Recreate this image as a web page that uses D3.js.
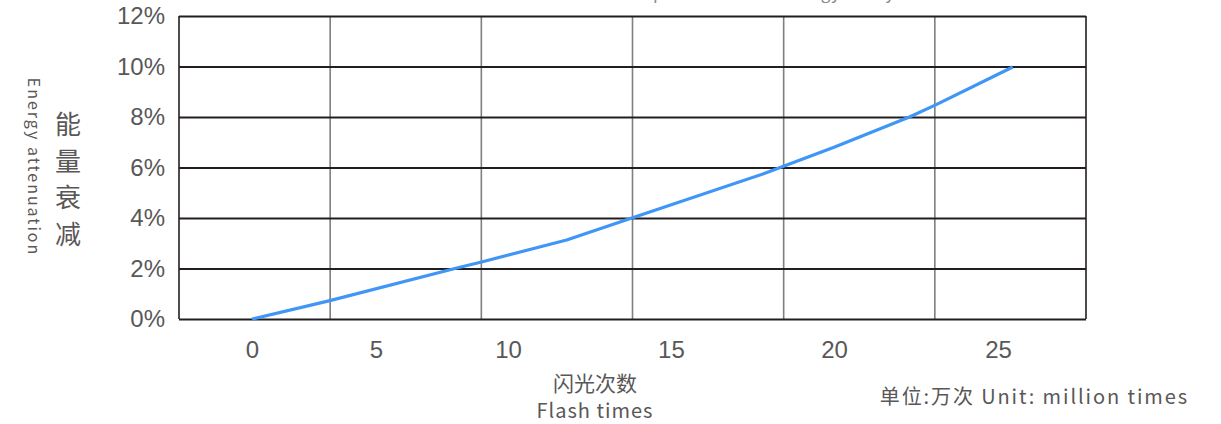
<!DOCTYPE html>
<html>
<head>
<meta charset="utf-8">
<script src="https://d3js.org/d3.v7.min.js"></script>
<style>
    body { margin: 0; background: #fff; }
    .tick text { fill: #595757; font-family: "Liberation Sans", Arial, sans-serif; }
    .cap { fill: #595757; font-family: "Noto Sans CJK SC", sans-serif; }
</style>
</head>
<body>
<div id="chart"></div>
<script>
    // flash count (10k times) vs energy attenuation (%)
    var flashes = [0, 3.1, 8.1, 9.0, 11.8, 13.8, 17.9, 20.0, 22.3, 23.1, 25.45];
    var attenuation = [0, 0.72, 2.03, 2.26, 3.13, 4.0, 5.78, 6.8, 8.0, 8.48, 9.98];
    var xTicks = [0, 5, 10, 15, 20, 25];
    var yTicks = [0, 2, 4, 6, 8, 10, 12];
    var nCols = 6;

    var width = 1221, height = 424;
    var margin = { top: 16, left: 179, right: 135, bottom: 105 };
    var plotW = width - margin.left - margin.right;
    var plotH = height - margin.top - margin.bottom;

    // label spots along the axis are not evenly spread in the original
    var tickFrac = [0.0805, 0.2172, 0.3627, 0.5424, 0.7222, 0.9030];

    var x = d3.scaleLinear()
        .domain(xTicks)
        .range(tickFrac.map(function (f) { return f * plotW; }));
    var y = d3.scaleLinear().domain([0, 12]).range([plotH, 0]);
    var col = d3.scaleLinear().domain([0, nCols]).range([0, plotW]);

    var svg = d3.select("#chart").append("svg")
        .attr("width", width)
        .attr("height", height);

    svg.append("text")
        .attr("class", "cap")
        .attr("x", margin.left + plotW / 2)
        .attr("y", -1)
        .attr("text-anchor", "middle")
        .style("font-size", "17px")
        .style("letter-spacing", "0.6px")
        .style("fill", "#8a8a8a")
        .text("Characteristic curve of xenon lamp accumulated energy decay");

    var g = svg.append("g")
        .attr("transform", "translate(" + margin.left + "," + margin.top + ")");

    // vertical grid
    g.append("g").selectAll("line")
        .data(d3.range(nCols + 1))
        .enter().append("line")
        .attr("x1", function (d) { return col(d); })
        .attr("x2", function (d) { return col(d); })
        .attr("y1", 0)
        .attr("y2", plotH)
        .style("stroke", function (d) { return (d == 0 || d == nCols) ? "#231f20" : "#7f7f7f"; })
        .style("stroke-width", 1.6);

    // y axis + horizontal grid
    var yAxis = g.append("g")
        .call(d3.axisLeft(y)
            .tickValues(yTicks)
            .tickSizeInner(-plotW)
            .tickSizeOuter(0)
            .tickPadding(14)
            .tickFormat(function (d) { return d + "%"; }));
    yAxis.select(".domain").remove();
    yAxis.selectAll(".tick line")
        .style("stroke", "#231f20")
        .style("stroke-width", 1.8);
    yAxis.selectAll(".tick text").style("font-size", "24px");

    // x axis labels
    var xAxis = g.append("g")
        .attr("transform", "translate(0," + plotH + ")")
        .call(d3.axisBottom(x)
            .tickValues(xTicks)
            .tickSize(0)
            .tickPadding(22));
    xAxis.select(".domain").remove();
    xAxis.selectAll(".tick text").style("font-size", "24px");

    var line = d3.line()
        .x(function (d) { return x(d[0]); })
        .y(function (d) { return y(d[1]); });

    g.append("path")
        .datum(d3.zip(flashes, attenuation))
        .attr("d", line)
        .style("fill", "none")
        .style("stroke", "#3f96f7")
        .style("stroke-width", 3.2)
        .style("stroke-linejoin", "round");

    // axis titles
    svg.append("text")
        .attr("class", "cap")
        .attr("text-anchor", "middle")
        .attr("x", 595)
        .attr("y", 391)
        .style("font-size", "21px")
        .text("闪光次数");
    svg.append("text")
        .attr("class", "cap")
        .attr("text-anchor", "middle")
        .attr("x", 595)
        .attr("y", 418)
        .style("font-size", "20px")
        .style("letter-spacing", "1px")
        .text("Flash times");

    svg.append("text")
        .attr("class", "cap")
        .attr("text-anchor", "end")
        .attr("x", 1189)
        .attr("y", 404)
        .style("font-size", "20px")
        .style("letter-spacing", "1.9px")
        .text("单位:万次  Unit: million times");

    var cn = "能量衰减".split("");
    svg.append("g").selectAll("text")
        .data(cn)
        .enter().append("text")
        .attr("class", "cap")
        .attr("text-anchor", "middle")
        .attr("x", 68)
        .attr("y", function (d, i) { return 134 + i * 36.5; })
        .style("font-size", "26px")
        .text(function (d) { return d; });

    svg.append("text")
        .attr("class", "cap")
        .attr("text-anchor", "middle")
        .attr("transform", "translate(28,167) rotate(90)")
        .style("font-size", "16px")
        .style("letter-spacing", "2px")
        .text("Energy attenuation");
</script>
</body>
</html>
